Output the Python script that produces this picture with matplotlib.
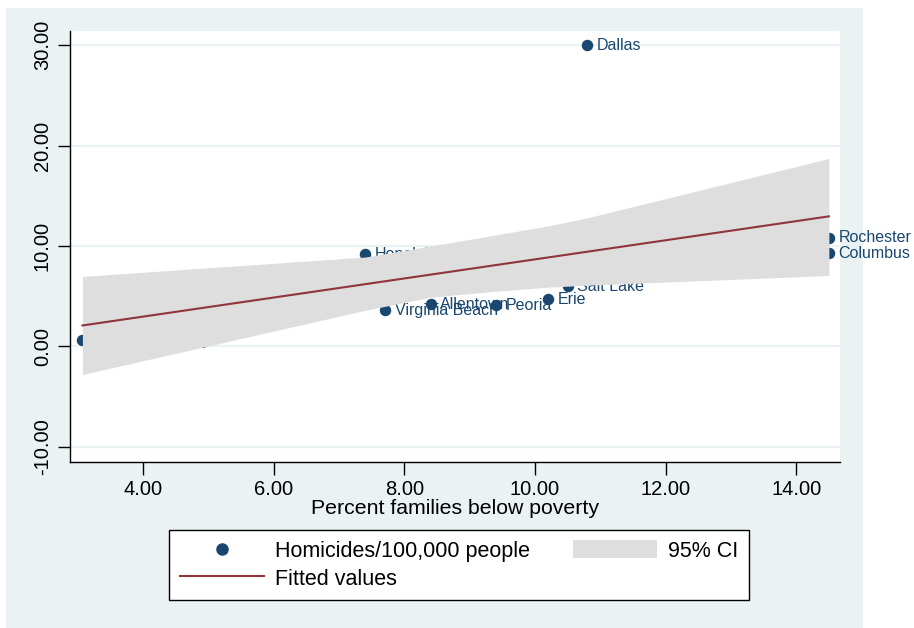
import matplotlib
matplotlib.use("Agg")
from matplotlib import pyplot as plt
from matplotlib.patches import Rectangle
from matplotlib.lines import Line2D

# homicide rate vs poverty, labelled cities
cities = ["Dallas", "Rochester", "Columbus", "Honolulu", "Salt Lake", "Erie",
          "Peoria", "Allentown", "Virginia Beach", "Colorado Springs"]
poverty = [10.8, 14.5, 14.5, 7.4, 10.5, 10.2, 9.4, 8.4, 7.7, 3.07]
homicides = [30.0, 10.8, 9.3, 9.2, 6.0, 4.7, 4.1, 4.2, 3.6, 0.6]

# fitted line and 95% band, taken at the sorted x values
fit_x = [3.07, 7.4, 8.4, 9.4, 10.2, 10.8, 14.5]
fit_y = [2.09, 6.20, 7.15, 8.10, 8.86, 9.43, 12.95]
ci_hi = [6.97, 8.9, 10.0, 11.1, 12.0, 12.8, 18.71]
ci_lo = [-2.79, 3.6, 4.9, 5.5, 5.9, 6.1, 7.06]

xticks = [4, 6, 8, 10, 12, 14]
yticks = [-10, 0, 10, 20, 30]

navy = "#1A476F"
maroon = "#90353B"
bg = "#EAF2F3"
band = "#DEDEDE"

plt.rcParams['font.family'] = ['Liberation Sans', 'DejaVu Sans']

fig = plt.figure(figsize=(9.14, 6.28), dpi=100, facecolor="white")
fig.patches.append(Rectangle((6 / 914, 0), 857 / 914, 620 / 628,
                             transform=fig.transFigure, facecolor=bg,
                             edgecolor="none", zorder=-10))

ax = fig.add_axes([70 / 914, 1 - 462 / 628, 770 / 914, 431 / 628])
ax.set_facecolor("white")
ax.set_xlim(2.88, 14.67)
ax.set_ylim(-11.5, 31.4)

for yt in yticks:
    ax.axhline(yt, color=bg, lw=1.6, zorder=0)

# points and names go under the band, as in the original graph
ax.scatter(poverty, homicides, s=68, color=navy, zorder=1, linewidths=0,
           clip_on=False)
for name, px, py in zip(cities, poverty, homicides):
    ax.annotate(name, (px, py), xytext=(7, 0), textcoords="offset points",
                va="center", ha="left", color=navy, fontsize=11.5,
                zorder=1, annotation_clip=False)

ax.fill_between(fit_x, ci_lo, ci_hi, color=band, lw=0, zorder=2)
ax.plot(fit_x, fit_y, color=maroon, lw=1.5, zorder=3)

for s in ["top", "right"]:
    ax.spines[s].set_visible(False)
ax.spines["left"].set_linewidth(1.0)
ax.spines["bottom"].set_linewidth(1.0)

ax.set_xticks(xticks)
ax.set_xticklabels(["%.2f" % v for v in xticks], fontsize=14.5)
ax.set_yticks(yticks)
ax.set_yticklabels(["%.2f" % v for v in yticks], fontsize=14.5, rotation=90,
                   va="center")
ax.tick_params(direction="out", length=9, width=1, pad=4)
ax.set_xlabel("Percent families below poverty", fontsize=15.3, labelpad=0)

handles = [Line2D([], [], marker="o", color=navy, ls="none", markersize=8),
           Line2D([], [], color=maroon, lw=1.5),
           Rectangle((0, 0), 1, 1, facecolor=band, edgecolor="none")]
labels = ["Homicides/100,000 people", "Fitted values", "95% CI"]
leg = fig.legend(handles, labels, ncol=2, loc="center",
                 bbox_to_anchor=(459 / 914, 1 - 565 / 628),
                 fontsize=15.5, frameon=True, fancybox=False, framealpha=1,
                 handlelength=3.9, handleheight=0.9, handletextpad=0.5,
                 columnspacing=2.0, labelspacing=0.3, borderpad=0.5)
leg.get_frame().set_edgecolor("black")
leg.get_frame().set_facecolor("white")
leg.get_frame().set_linewidth(1.0)

fig.savefig("out.png", dpi=100, facecolor="white")
